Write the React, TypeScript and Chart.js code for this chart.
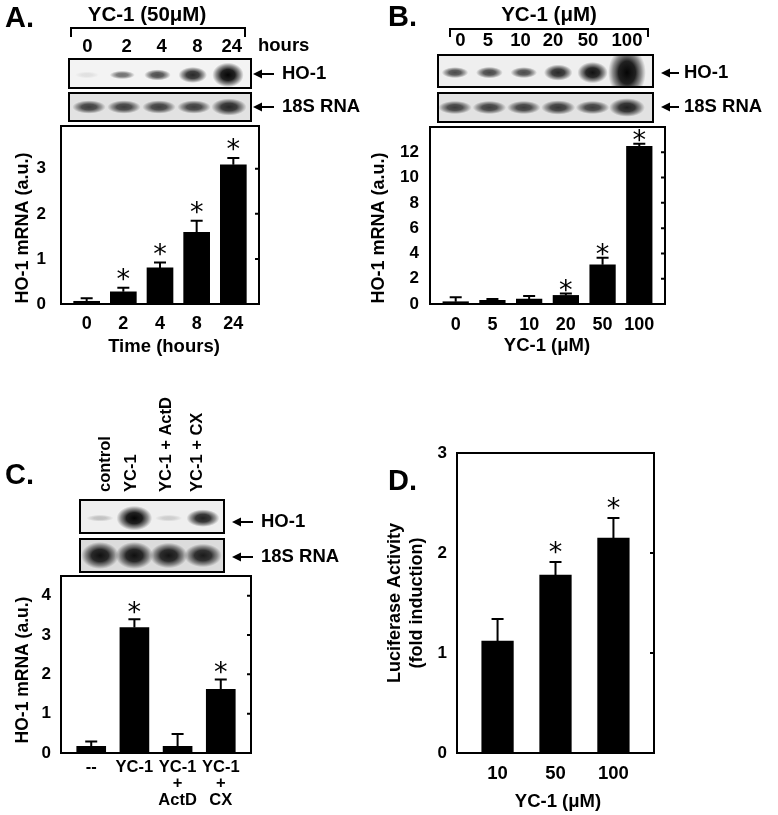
import React, { useEffect, useRef } from 'react';
import { Chart, registerables } from 'chart.js';
Chart.register(...registerables);

const FONT = '"Liberation Sans", Arial, sans-serif';

// ---------- Panel A: time course ----------
const labelsA = ['0', '2', '4', '8', '24'];
const valuesA = [0.06, 0.27, 0.8, 1.59, 3.09];
const errorsA = [0.13, 0.36, 0.92, 1.85, 3.24];
const sigA = [false, true, true, true, true];
const yTicksA = [0, 1, 2, 3];
const hoBandsA = [0.08, 0.55, 0.7, 0.85, 1.0];
const rnaBandsA = [0.75, 0.75, 0.75, 0.75, 0.85];

// ---------- Panel B: dose response ----------
const labelsB = ['0', '5', '10', '20', '50', '100'];
const valuesB = [0.18, 0.29, 0.39, 0.68, 3.1, 12.47];
const errorsB = [0.53, 0.39, 0.63, 0.84, 3.66, 12.68];
const sigB = [false, false, false, true, true, true];
const yTicksB = [0, 2, 4, 6, 8, 10, 12];
const hoBandsB = [0.7, 0.72, 0.7, 0.85, 0.95, 1.25];
const rnaBandsB = [0.75, 0.75, 0.75, 0.78, 0.75, 0.88];

// ---------- Panel C: inhibitors ----------
const labelsC = [['--'], ['YC-1'], ['YC-1', '+', 'ActD'], ['YC-1', '+', 'CX']];
const laneLabelsC = ['control', 'YC-1', 'YC-1 + ActD', 'YC-1 + CX'];
const valuesC = [0.17, 3.19, 0.17, 1.62];
const errorsC = [0.29, 3.4, 0.48, 1.87];
const sigC = [false, true, false, true];
const yTicksC = [0, 1, 2, 3, 4];
const hoBandsC = [0.2, 1.0, 0.15, 0.88];
const rnaBandsC = [0.95, 0.95, 0.93, 0.9];

// ---------- Panel D: luciferase ----------
const labelsD = ['10', '50', '100'];
const valuesD = [1.12, 1.78, 2.15];
const errorsD = [1.34, 1.91, 2.35];
const sigD = [false, true, true];
const yTicksD = [0, 1, 2, 3];

type Txt = { s: string; x: number; y: number; size: number; align?: CanvasTextAlign; rot?: number };
type Blot = { x: number; y: number; w: number; h: number; bands: number[]; first: number; last: number; cy: number; bw: number; bh: number; bg: string };
type Panel = {
  id: string;
  labels: (string | string[])[];
  values: number[];
  errors: number[];
  sig: boolean[];
  yTicks: number[];
  yMax: number;
  area: { l: number; t: number; r: number; b: number };
  barWidth: number;
  xTick: { size: number; lh: number; pad: number };
  yTick: { size: number; pad: number };
  starOffset: number;
  texts: Txt[];
  polylines: number[][][];
  arrows: { x1: number; x2: number; y: number }[];
  blots: Blot[];
};

const laneXA = [87.5, 126.7, 161.7, 197.5, 231.7];
const laneXB = [460.5, 488, 520.5, 553, 588, 627];
const laneXC = [105.5, 131.5, 166, 197];
const ROT = -Math.PI / 2;
const L: CanvasTextAlign = 'left';

const panels: Panel[] = [
  {
    id: 'A', labels: labelsA, values: valuesA, errors: errorsA, sig: sigA, yTicks: yTicksA, yMax: 3.95,
    area: { l: 61, t: 126, r: 259, b: 304 }, barWidth: 26,
    xTick: { size: 18, lh: 1.2, pad: 9.2 }, yTick: { size: 17, pad: 15 }, starOffset: 13,
    texts: [
      { s: 'A.', x: 5, y: 19, size: 29, align: L },
      { s: 'YC-1 (50μM)', x: 147, y: 15, size: 20.5 },
      ...labelsA.map((s, i) => ({ s, x: laneXA[i], y: 46.5, size: 18.5 })),
      { s: 'hours', x: 258, y: 46, size: 18.5, align: L },
      { s: 'HO-1', x: 282, y: 74, size: 18.5, align: L },
      { s: '18S RNA', x: 282, y: 107, size: 18.5, align: L },
      { s: 'HO-1 mRNA (a.u.)', x: 23, y: 228, size: 18, rot: ROT },
      { s: 'Time (hours)', x: 164, y: 347, size: 18.5 },
    ],
    polylines: [[[71, 37], [71, 28], [245, 28], [245, 37]]],
    arrows: [{ x1: 253, x2: 274, y: 74 }, { x1: 253, x2: 274, y: 107 }],
    blots: [
      { x: 69, y: 59, w: 182, h: 29, bands: hoBandsA, first: 87, last: 228, cy: 0.55, bw: 30, bh: 15, bg: '#f3f3f3' },
      { x: 69, y: 93, w: 182, h: 28, bands: rnaBandsA, first: 89, last: 229, cy: 0.5, bw: 37, bh: 16, bg: '#e2e2e2' },
    ],
  },
  {
    id: 'B', labels: labelsB, values: valuesB, errors: errorsB, sig: sigB, yTicks: yTicksB, yMax: 14,
    area: { l: 430, t: 127, r: 665, b: 304 }, barWidth: 25.6,
    xTick: { size: 18, lh: 1.2, pad: 10.2 }, yTick: { size: 17, pad: 11 }, starOffset: 8,
    texts: [
      { s: 'B.', x: 388, y: 18, size: 29, align: L },
      { s: 'YC-1 (μM)', x: 549, y: 15, size: 20.5 },
      ...labelsB.map((s, i) => ({ s, x: laneXB[i], y: 41, size: 18.5 })),
      { s: 'HO-1', x: 684, y: 73, size: 18.5, align: L },
      { s: '18S RNA', x: 684, y: 107, size: 18.5, align: L },
      { s: 'HO-1 mRNA (a.u.)', x: 379, y: 228, size: 18, rot: ROT },
      { s: 'YC-1 (μM)', x: 547, y: 346, size: 18.5 },
    ],
    polylines: [[[450, 37], [450, 29], [648, 29], [648, 37]]],
    arrows: [{ x1: 661, x2: 679, y: 73 }, { x1: 661, x2: 679, y: 107 }],
    blots: [
      { x: 438, y: 55, w: 215, h: 32, bands: hoBandsB, first: 455, last: 627, cy: 0.55, bw: 30, bh: 15, bg: '#efefef' },
      { x: 438, y: 93, w: 215, h: 29, bands: rnaBandsB, first: 455, last: 627, cy: 0.5, bw: 37, bh: 16, bg: '#e2e2e2' },
    ],
  },
  {
    id: 'C', labels: labelsC, values: valuesC, errors: errorsC, sig: sigC, yTicks: yTicksC, yMax: 4.5,
    area: { l: 61, t: 576, r: 251, b: 753 }, barWidth: 29,
    xTick: { size: 16.5, lh: 1.0, pad: 5.75 }, yTick: { size: 17, pad: 10 }, starOffset: 11.5,
    texts: [
      { s: 'C.', x: 5, y: 476, size: 29, align: L },
      ...laneLabelsC.map((s, i) => ({ s, x: laneXC[i], y: 492, size: 16.5, align: L, rot: ROT })),
      { s: 'HO-1', x: 261, y: 522, size: 18.5, align: L },
      { s: '18S RNA', x: 261, y: 557, size: 18.5, align: L },
      { s: 'HO-1 mRNA (a.u.)', x: 23, y: 670, size: 17.5, rot: ROT },
    ],
    polylines: [],
    arrows: [{ x1: 232, x2: 253, y: 522 }, { x1: 232, x2: 253, y: 557 }],
    blots: [
      { x: 80, y: 500, w: 144, h: 33, bands: hoBandsC, first: 100, last: 203, cy: 0.55, bw: 34, bh: 15, bg: '#efefef' },
      { x: 80, y: 539, w: 144, h: 33, bands: rnaBandsC, first: 100, last: 203, cy: 0.5, bw: 40, bh: 19, bg: '#dcdcdc' },
    ],
  },
  {
    id: 'D', labels: labelsD, values: valuesD, errors: errorsD, sig: sigD, yTicks: yTicksD, yMax: 3,
    area: { l: 457, t: 453, r: 654, b: 753 }, barWidth: 31.6,
    xTick: { size: 18.5, lh: 1.2, pad: 10.2 }, yTick: { size: 17, pad: 10 }, starOffset: 15,
    texts: [
      { s: 'D.', x: 388, y: 482, size: 29, align: L },
      { s: 'Luciferase Activity', x: 395, y: 603, size: 18, rot: ROT },
      { s: '(fold induction)', x: 417, y: 603, size: 18, rot: ROT },
      { s: 'YC-1 (μM)', x: 558, y: 802, size: 18.5 },
    ],
    polylines: [],
    arrows: [],
    blots: [],
  },
];

function drawText(ctx: CanvasRenderingContext2D, t: Txt) {
  ctx.save();
  ctx.translate(t.x, t.y);
  if (t.rot) ctx.rotate(t.rot);
  ctx.font = `bold ${t.size}px ${FONT}`;
  ctx.textAlign = t.align || 'center';
  ctx.textBaseline = 'middle';
  ctx.fillStyle = '#000';
  ctx.fillText(t.s, 0, 0);
  ctx.restore();
}

function drawBlot(ctx: CanvasRenderingContext2D, b: Blot) {
  ctx.save();
  ctx.fillStyle = b.bg;
  ctx.fillRect(b.x, b.y, b.w, b.h);
  ctx.beginPath();
  ctx.rect(b.x, b.y, b.w, b.h);
  ctx.clip();
  const n = b.bands.length;
  const step = (b.last - b.first) / (n - 1);
  b.bands.forEach((I, i) => {
    const cx = b.first + step * i;
    const cy = b.y + b.h * b.cy;
    const w = Math.min(step * 1.1, b.bw * (0.8 + 0.25 * Math.pow(I, 3)));
    const h = b.bh * (0.45 + 1.2 * Math.pow(I, 4));
    const a = Math.min(1, I);
    ctx.save();
    ctx.translate(cx, cy);
    ctx.scale(w / 2, h / 2);
    const g = ctx.createRadialGradient(0, 0, 0, 0, 0, 1);
    g.addColorStop(0, `rgba(5,5,5,${a})`);
    g.addColorStop(0.45, `rgba(15,15,15,${a * 0.92})`);
    g.addColorStop(0.75, `rgba(40,40,40,${a * 0.5})`);
    g.addColorStop(1, 'rgba(60,60,60,0)');
    ctx.fillStyle = g;
    ctx.beginPath();
    ctx.arc(0, 0, 1, 0, Math.PI * 2);
    ctx.fill();
    ctx.restore();
  });
  ctx.restore();
  ctx.save();
  ctx.strokeStyle = '#000';
  ctx.lineWidth = 2;
  ctx.strokeRect(b.x, b.y, b.w, b.h);
  ctx.restore();
}

function drawArrow(ctx: CanvasRenderingContext2D, a: { x1: number; x2: number; y: number }) {
  ctx.save();
  ctx.strokeStyle = '#000';
  ctx.fillStyle = '#000';
  ctx.lineWidth = 2;
  ctx.beginPath();
  ctx.moveTo(a.x1 + 6, a.y);
  ctx.lineTo(a.x2, a.y);
  ctx.stroke();
  ctx.beginPath();
  ctx.moveTo(a.x1, a.y);
  ctx.lineTo(a.x1 + 9, a.y - 4.5);
  ctx.lineTo(a.x1 + 9, a.y + 4.5);
  ctx.closePath();
  ctx.fill();
  ctx.restore();
}

function makePlugin(p: Panel) {
  return {
    id: 'panel' + p.id,
    afterDatasetsDraw(chart: any) {
      const ctx: CanvasRenderingContext2D = chart.ctx;
      const ys = chart.scales.y;
      const meta = chart.getDatasetMeta(0);
      ctx.save();
      ctx.strokeStyle = '#000';
      ctx.lineWidth = 2;
      meta.data.forEach((el: any, i: number) => {
        const top = ys.getPixelForValue(p.values[i]);
        const ey = ys.getPixelForValue(p.errors[i]);
        ctx.beginPath();
        ctx.moveTo(el.x, top);
        ctx.lineTo(el.x, ey);
        ctx.moveTo(el.x - 6, ey);
        ctx.lineTo(el.x + 6, ey);
        ctx.stroke();
      });
      ctx.restore();
      // significance asterisks
      ctx.save();
      ctx.fillStyle = '#000';
      ctx.font = `100px "DejaVu Sans"`;
      const m = ctx.measureText('*');
      const hh = m.actualBoundingBoxAscent + m.actualBoundingBoxDescent;
      const size = (100 * 12.5) / (hh || 36);
      ctx.font = `${size}px "DejaVu Sans"`;
      const m2 = ctx.measureText('*');
      const mid = (m2.actualBoundingBoxAscent - m2.actualBoundingBoxDescent) / 2;
      ctx.textAlign = 'center';
      ctx.textBaseline = 'alphabetic';
      meta.data.forEach((el: any, i: number) => {
        if (!p.sig[i]) return;
        const ey = ys.getPixelForValue(p.errors[i]);
        ctx.fillText('*', el.x, ey - p.starOffset + mid);
      });
      ctx.restore();
    },
    afterDraw(chart: any) {
      const ctx: CanvasRenderingContext2D = chart.ctx;
      const a = chart.chartArea;
      const ys = chart.scales.y;
      ctx.save();
      ctx.strokeStyle = '#000';
      ctx.lineWidth = 2;
      ctx.strokeRect(a.left, a.top, a.right - a.left, a.bottom - a.top);
      // inner ticks on the right edge
      ctx.beginPath();
      p.yTicks.forEach((v) => {
        if (v <= 0 || v >= p.yMax) return;
        const y = ys.getPixelForValue(v);
        ctx.moveTo(a.right - 4, y);
        ctx.lineTo(a.right, y);
      });
      ctx.stroke();
      // brackets
      p.polylines.forEach((pl) => {
        ctx.beginPath();
        pl.forEach(([x, y], k) => (k ? ctx.lineTo(x, y) : ctx.moveTo(x, y)));
        ctx.stroke();
      });
      ctx.restore();
      p.blots.forEach((b) => drawBlot(ctx, b));
      p.arrows.forEach((ar) => drawArrow(ctx, ar));
      p.texts.forEach((t) => drawText(ctx, t));
    },
  };
}

function makeConfig(p: Panel): any {
  const Y_W = 60;
  const X_H = 60;
  return {
    type: 'bar',
    data: {
      datasets: [
        {
          data: p.values.map((v, i) => ({ x: i, y: v })),
          backgroundColor: '#000',
          borderWidth: 0,
          barThickness: p.barWidth,
        },
      ],
    },
    options: {
      responsive: false,
      animation: false,
      events: [],
      layout: {
        padding: {
          left: p.area.l - Y_W,
          top: p.area.t,
          right: 778 - p.area.r,
          bottom: Math.max(0, 815 - p.area.b - X_H),
        },
      },
      plugins: { legend: { display: false }, tooltip: { enabled: false }, title: { display: false } },
      scales: {
        x: {
          type: 'linear',
          min: -0.7,
          max: p.labels.length - 0.3,
          offset: false,
          grid: { display: false, drawTicks: false },
          border: { display: false },
          afterBuildTicks: (s: any) => {
            s.ticks = p.labels.map((_, i) => ({ value: i }));
          },
          afterFit: (s: any) => {
            s.height = X_H;
          },
          ticks: {
            autoSkip: false,
            maxRotation: 0,
            minRotation: 0,
            color: '#000',
            padding: p.xTick.pad,
            font: { family: FONT, size: p.xTick.size, weight: 'bold', lineHeight: p.xTick.lh },
            callback: (v: number) => p.labels[Math.round(v)],
          },
        },
        y: {
          type: 'linear',
          min: 0,
          max: p.yMax,
          grid: { display: false, drawTicks: false },
          border: { display: false },
          afterBuildTicks: (s: any) => {
            s.ticks = p.yTicks.map((v) => ({ value: v }));
          },
          afterFit: (s: any) => {
            s.width = Y_W;
          },
          ticks: {
            color: '#000',
            padding: p.yTick.pad,
            font: { family: FONT, size: p.yTick.size, weight: 'bold' },
            callback: (v: number) => String(v),
          },
        },
      },
    },
    plugins: [makePlugin(p)],
  };
}

function PanelChart({ p }: { p: Panel }) {
  const ref = useRef<HTMLCanvasElement>(null);
  useEffect(() => {
    const chart = new Chart(ref.current as HTMLCanvasElement, makeConfig(p));
    return () => chart.destroy();
  }, [p]);
  return (
    <canvas
      ref={ref}
      width={778}
      height={815}
      style={{ position: 'absolute', left: 0, top: 0, width: 778, height: 815 }}
    />
  );
}

export default function App() {
  return (
    <div style={{ position: 'absolute', left: 0, top: 0, width: 778, height: 815, background: '#fff', overflow: 'hidden' }}>
      {panels.map((p) => (
        <PanelChart key={p.id} p={p} />
      ))}
    </div>
  );
}
